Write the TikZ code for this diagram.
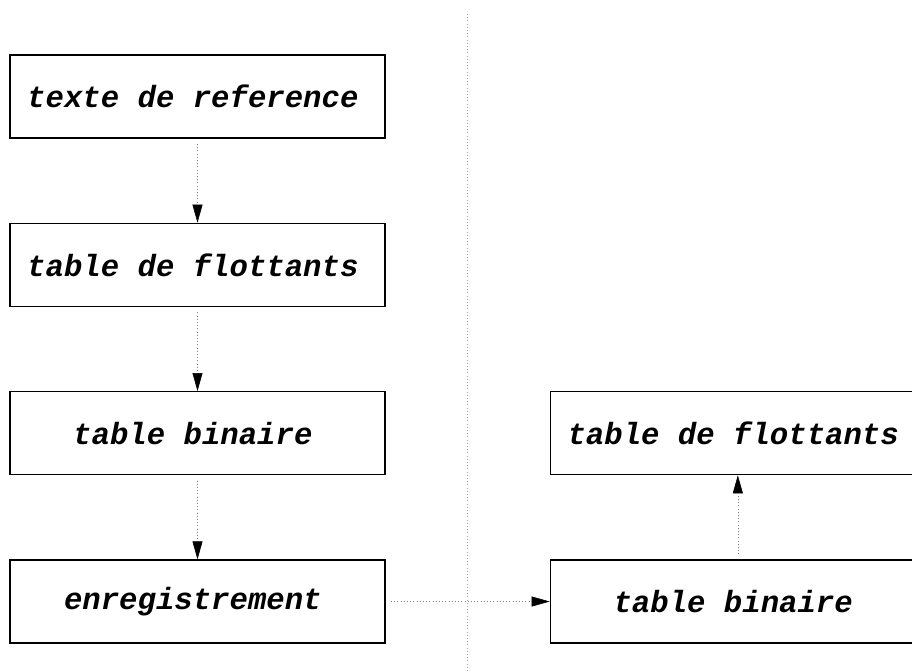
\documentclass[tikz,border=0pt]{standalone}
\usepackage{fontspec}
\setmonofont{Liberation Mono}
\usetikzlibrary{arrows.meta,positioning}

\begin{document}
\begin{tikzpicture} [ % 样式
        x=0.75pt, y=-0.75pt, node distance=63pt and 123pt,
        font=\fontsize{23}{26}\selectfont\ttfamily\bfseries\itshape,
        box/.style = {draw, line width=1pt, rectangle, inner sep=0pt,
                      minimum width=281.25pt, minimum height=62.25pt,
                      execute at end node={\hspace{7pt}}},
        link/.style = {dotted, gray, shorten <=4pt,
                       -{Triangle[length=13.5pt, width=7.5pt, color=black]}},
        divider/.style = {dotted, gray!70}
    ]
    \useasboundingbox (0,0) rectangle (912,671);

    % 分隔线
    \path (467,14) coordinate (d1);
    \path (467,671) coordinate (d2);
    \draw [divider] (d1) -- (d2);

    % 左
    \node [box] (ref) at (197.5,96.5) {texte de reference};
    \node [box, below=of ref] (flt1) {table de flottants};
    \node [box, below=of flt1] (bin1) {table binaire};
    \node [box, below=of bin1] (enr) {enregistrement};

    % 右
    \node [box, right=of enr] (bin2) {table binaire};
    \node [box, above=of bin2] (flt2) {table de flottants};

    % 连线
    \draw [link] (ref) -- (flt1);
    \draw [link] (flt1) -- (bin1);
    \draw [link] (bin1) -- (enr);
    \draw [link] (enr) -- (bin2);
    \draw [link] (bin2) -- (flt2);

\end{tikzpicture}
\end{document}
